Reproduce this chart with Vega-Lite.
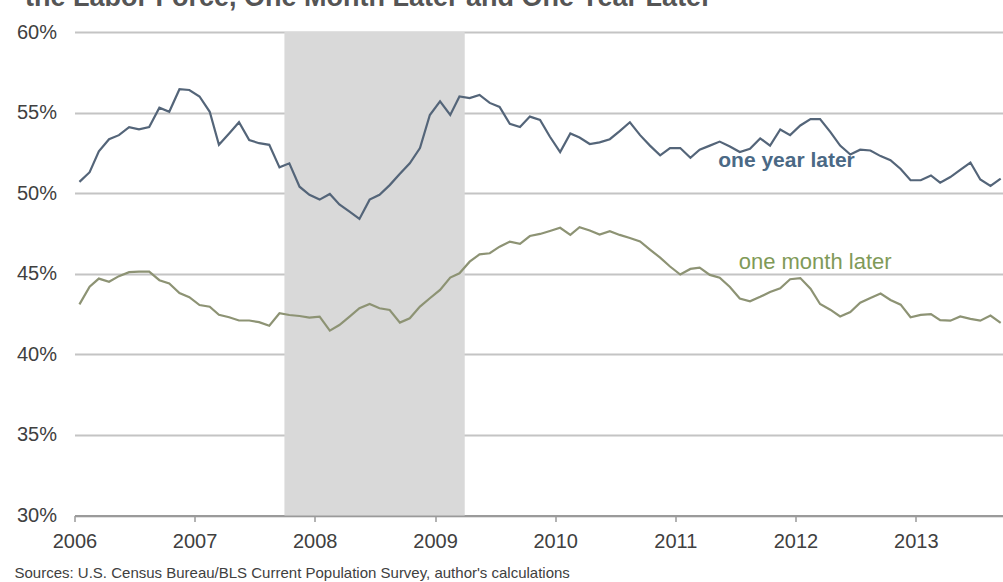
{
  "$schema": "https://vega.github.io/schema/vega-lite/v6.json",
  "autosize": {"type": "none"},
  "width": 928.5,
  "height": 483.5,
  "padding": {"left": 74.5, "top": 32, "right": 0, "bottom": 66.5},
  "background": "white",
  "config": {
    "view": {"stroke": null},
    "font": "Liberation Sans, Arial, sans-serif"
  },
  "title": {
    "text": "the Labor Force, One Month Later and One Year Later",
    "anchor": "start",
    "frame": "group",
    "baseline": "alphabetic",
    "offset": -11,
    "dx": -49.5,
    "fontSize": 27,
    "fontWeight": "bold",
    "color": "#555555",
    "font": "Liberation Sans, Arial, sans-serif"
  },
  "datasets": {
    "series": [
      {"d": "2006/01/16", "yl": 50.7, "ml": 43.1},
      {"d": "2006/02/16", "yl": 51.3, "ml": 44.2},
      {"d": "2006/03/16", "yl": 52.6, "ml": 44.7},
      {"d": "2006/04/16", "yl": 53.35, "ml": 44.5},
      {"d": "2006/05/16", "yl": 53.6, "ml": 44.85},
      {"d": "2006/06/16", "yl": 54.1, "ml": 45.1},
      {"d": "2006/07/16", "yl": 53.96, "ml": 45.13},
      {"d": "2006/08/16", "yl": 54.1, "ml": 45.13},
      {"d": "2006/09/16", "yl": 55.3, "ml": 44.6},
      {"d": "2006/10/16", "yl": 55.05, "ml": 44.4},
      {"d": "2006/11/16", "yl": 56.45, "ml": 43.8},
      {"d": "2006/12/16", "yl": 56.4, "ml": 43.55},
      {"d": "2007/01/16", "yl": 56.0, "ml": 43.06},
      {"d": "2007/02/16", "yl": 55.05, "ml": 42.95},
      {"d": "2007/03/16", "yl": 53.0, "ml": 42.45},
      {"d": "2007/04/16", "yl": 53.7, "ml": 42.3},
      {"d": "2007/05/16", "yl": 54.4, "ml": 42.1},
      {"d": "2007/06/16", "yl": 53.3, "ml": 42.1},
      {"d": "2007/07/16", "yl": 53.1, "ml": 42.0},
      {"d": "2007/08/16", "yl": 53.0, "ml": 41.77},
      {"d": "2007/09/16", "yl": 51.6, "ml": 42.55},
      {"d": "2007/10/16", "yl": 51.85, "ml": 42.44},
      {"d": "2007/11/16", "yl": 50.4, "ml": 42.38},
      {"d": "2007/12/16", "yl": 49.9, "ml": 42.28},
      {"d": "2008/01/16", "yl": 49.6, "ml": 42.34},
      {"d": "2008/02/16", "yl": 49.95, "ml": 41.47},
      {"d": "2008/03/16", "yl": 49.3, "ml": 41.82},
      {"d": "2008/04/16", "yl": 48.85, "ml": 42.34},
      {"d": "2008/05/16", "yl": 48.4, "ml": 42.86},
      {"d": "2008/06/16", "yl": 49.6, "ml": 43.13},
      {"d": "2008/07/16", "yl": 49.9, "ml": 42.86},
      {"d": "2008/08/16", "yl": 50.5, "ml": 42.75},
      {"d": "2008/09/16", "yl": 51.2, "ml": 41.97},
      {"d": "2008/10/16", "yl": 51.85, "ml": 42.24},
      {"d": "2008/11/16", "yl": 52.8, "ml": 42.96},
      {"d": "2008/12/16", "yl": 54.85, "ml": 43.48},
      {"d": "2009/01/16", "yl": 55.7, "ml": 44.0},
      {"d": "2009/02/16", "yl": 54.85, "ml": 44.76},
      {"d": "2009/03/16", "yl": 56.0, "ml": 45.03},
      {"d": "2009/04/16", "yl": 55.9, "ml": 45.75},
      {"d": "2009/05/16", "yl": 56.1, "ml": 46.2},
      {"d": "2009/06/16", "yl": 55.6, "ml": 46.27},
      {"d": "2009/07/16", "yl": 55.35, "ml": 46.68},
      {"d": "2009/08/16", "yl": 54.3, "ml": 46.99},
      {"d": "2009/09/16", "yl": 54.1, "ml": 46.85},
      {"d": "2009/10/16", "yl": 54.75, "ml": 47.34},
      {"d": "2009/11/16", "yl": 54.55, "ml": 47.47},
      {"d": "2009/12/16", "yl": 53.5, "ml": 47.65},
      {"d": "2010/01/16", "yl": 52.55, "ml": 47.85},
      {"d": "2010/02/16", "yl": 53.7, "ml": 47.41},
      {"d": "2010/03/16", "yl": 53.45, "ml": 47.89},
      {"d": "2010/04/16", "yl": 53.05, "ml": 47.68},
      {"d": "2010/05/16", "yl": 53.15, "ml": 47.43},
      {"d": "2010/06/16", "yl": 53.35, "ml": 47.64},
      {"d": "2010/07/16", "yl": 53.85, "ml": 47.41},
      {"d": "2010/08/16", "yl": 54.4, "ml": 47.22},
      {"d": "2010/09/16", "yl": 53.6, "ml": 47.0},
      {"d": "2010/10/16", "yl": 52.95, "ml": 46.5},
      {"d": "2010/11/16", "yl": 52.35, "ml": 46.0},
      {"d": "2010/12/16", "yl": 52.8, "ml": 45.45},
      {"d": "2011/01/16", "yl": 52.8, "ml": 44.95},
      {"d": "2011/02/16", "yl": 52.2, "ml": 45.3},
      {"d": "2011/03/16", "yl": 52.7, "ml": 45.38},
      {"d": "2011/04/16", "yl": 52.95, "ml": 44.93},
      {"d": "2011/05/16", "yl": 53.2, "ml": 44.75},
      {"d": "2011/06/16", "yl": 52.9, "ml": 44.18},
      {"d": "2011/07/16", "yl": 52.55, "ml": 43.46},
      {"d": "2011/08/16", "yl": 52.75, "ml": 43.29},
      {"d": "2011/09/16", "yl": 53.4, "ml": 43.57},
      {"d": "2011/10/16", "yl": 52.95, "ml": 43.87},
      {"d": "2011/11/16", "yl": 53.95, "ml": 44.1},
      {"d": "2011/12/16", "yl": 53.6, "ml": 44.66},
      {"d": "2012/01/16", "yl": 54.2, "ml": 44.73},
      {"d": "2012/02/16", "yl": 54.6, "ml": 44.07},
      {"d": "2012/03/16", "yl": 54.6, "ml": 43.12},
      {"d": "2012/04/16", "yl": 53.8, "ml": 42.77},
      {"d": "2012/05/16", "yl": 52.95, "ml": 42.35},
      {"d": "2012/06/16", "yl": 52.4, "ml": 42.62},
      {"d": "2012/07/16", "yl": 52.7, "ml": 43.2},
      {"d": "2012/08/16", "yl": 52.65, "ml": 43.5},
      {"d": "2012/09/16", "yl": 52.3, "ml": 43.77},
      {"d": "2012/10/16", "yl": 52.05, "ml": 43.37},
      {"d": "2012/11/16", "yl": 51.5, "ml": 43.08},
      {"d": "2012/12/16", "yl": 50.8, "ml": 42.3},
      {"d": "2013/01/16", "yl": 50.8, "ml": 42.45},
      {"d": "2013/02/16", "yl": 51.1, "ml": 42.5},
      {"d": "2013/03/16", "yl": 50.65, "ml": 42.12},
      {"d": "2013/04/16", "yl": 51.0, "ml": 42.09},
      {"d": "2013/05/16", "yl": 51.45, "ml": 42.35},
      {"d": "2013/06/16", "yl": 51.9, "ml": 42.2},
      {"d": "2013/07/16", "yl": 50.85, "ml": 42.09},
      {"d": "2013/08/16", "yl": 50.45, "ml": 42.41},
      {"d": "2013/09/16", "yl": 50.9, "ml": 41.95}
    ]
  },
  "layer": [
    {
      "data": {"values": [{"start": "2007/10/01", "end": "2009/04/01"}]},
      "mark": {"type": "rect", "color": "#d9d9d9"},
      "encoding": {
        "x": {
          "field": "start", "type": "temporal",
          "scale": {"domain": [{"year": 2006, "month": 1, "date": 1}, {"year": 2013, "month": 9, "date": 23}]},
          "axis": {
            "values": [
              {"year": 2006, "month": 1, "date": 1}, {"year": 2007, "month": 1, "date": 1},
              {"year": 2008, "month": 1, "date": 1}, {"year": 2009, "month": 1, "date": 1},
              {"year": 2010, "month": 1, "date": 1}, {"year": 2011, "month": 1, "date": 1},
              {"year": 2012, "month": 1, "date": 1}, {"year": 2013, "month": 1, "date": 1}
            ],
            "format": "%Y",
            "grid": false,
            "domainColor": "#9a9a9a",
            "domainWidth": 2,
            "ticks": true,
            "tickColor": "#9a9a9a",
            "tickSize": 6,
            "tickWidth": 1.5,
            "labelFont": "Liberation Sans, Arial, sans-serif",
            "labelFontSize": 20,
            "labelColor": "#404040",
            "labelPadding": 10,
            "labelDx": 5,
            "labelFlush": false,
            "title": "Sources: U.S. Census Bureau/BLS Current Population Survey, author's calculations",
            "titleFont": "Liberation Sans, Arial, sans-serif",
            "titleFontSize": 15,
            "titleFontWeight": "normal",
            "titleColor": "#404040",
            "titleAnchor": "start",
            "titleAlign": "left",
            "titleBaseline": "alphabetic",
            "titleX": -60.5,
            "titleY": 62
          }
        },
        "x2": {"field": "end"}
      }
    },
    {
      "data": {"name": "series"},
      "mark": {"type": "line", "color": "#8d9374", "strokeWidth": 2.2},
      "encoding": {
        "x": {"field": "d", "type": "temporal"},
        "y": {
          "field": "ml", "type": "quantitative",
          "scale": {"domain": [30, 60], "nice": false, "zero": false},
          "axis": {
            "values": [30, 35, 40, 45, 50, 55, 60],
            "labelExpr": "datum.value + '%'",
            "grid": true,
            "gridColor": "#c4c4c4",
            "gridWidth": 2,
            "domain": false,
            "ticks": false,
            "labelFont": "Liberation Sans, Arial, sans-serif",
            "labelFontSize": 20,
            "labelColor": "#404040",
            "labelPadding": 18,
            "title": null
          }
        }
      }
    },
    {
      "data": {"name": "series"},
      "mark": {"type": "line", "color": "#546579", "strokeWidth": 2.2},
      "encoding": {
        "x": {"field": "d", "type": "temporal"},
        "y": {"field": "yl", "type": "quantitative"}
      }
    },
    {
      "data": {"values": [{"label": "one year later", "d": "2011/12/05", "v": 52.0}]},
      "mark": {"type": "text", "font": "Liberation Sans, Arial, sans-serif", "fontSize": 21, "fontWeight": "bold", "color": "#4b6985", "align": "center", "baseline": "middle"},
      "encoding": {
        "x": {"field": "d", "type": "temporal"},
        "y": {"field": "v", "type": "quantitative"},
        "text": {"field": "label"}
      }
    },
    {
      "data": {"values": [{"label": "one month later", "d": "2012/03/01", "v": 45.73}]},
      "mark": {"type": "text", "font": "Liberation Sans, Arial, sans-serif", "fontSize": 22, "fontWeight": "normal", "color": "#7f9a58", "align": "center", "baseline": "middle"},
      "encoding": {
        "x": {"field": "d", "type": "temporal"},
        "y": {"field": "v", "type": "quantitative"},
        "text": {"field": "label"}
      }
    }
  ]
}
